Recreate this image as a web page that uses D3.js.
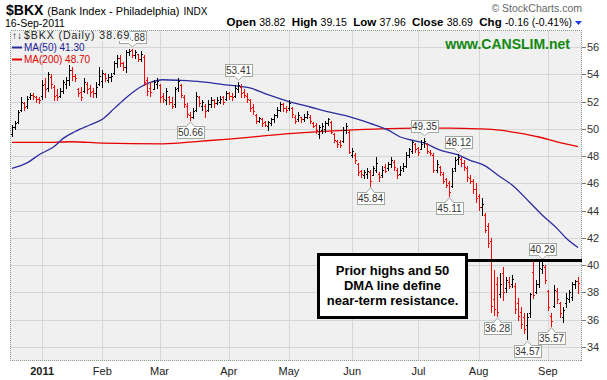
<!DOCTYPE html>
<html><head><meta charset="utf-8">
<script src="https://cdn.jsdelivr.net/npm/d3@7/dist/d3.min.js"></script>
<style>
html,body{margin:0;padding:0;background:#fff;}
svg{display:block;font-family:Arial,"Liberation Sans",sans-serif;}
</style></head><body>
<svg id="c" width="607" height="380"></svg>
<script>
// ---------- DATA (daily OHLC, 17-Dec-2010 .. 16-Sep-2011) ----------
const opens = [
 49.6,50.1,50.5,51.4,51.9,51.7,52.3,52.5,52.3,52.2,
 52.4,53.3,53.0,53.8,53.1,52.5,52.4,52.8,53.3,53.6,54.3,53.9,52.9,52.7,52.8,53.3,53.0,52.8,52.6,53.3,
 53.5,54.0,53.6,53.8,54.1,54.8,55.2,54.8,54.5,55.6,55.8,55.4,55.5,55.1,55.3,53.6,53.0,52.9,53.3,
 53.2,52.4,52.1,52.3,52.0,51.8,53.0,53.2,52.3,51.7,51.0,50.9,51.4,52.3,51.7,51.7,51.4,51.8,52.1,51.9,52.0,52.3,52.2,
 52.6,52.4,52.4,52.9,53.1,52.7,52.4,52.1,51.6,51.0,50.6,50.7,50.5,50.2,50.4,50.7,51.0,51.4,51.8,51.5,
 51.5,51.5,50.9,50.7,50.9,50.7,50.9,50.9,50.4,50.3,49.6,49.9,50.0,50.4,50.5,49.6,49.1,49.0,49.1,49.9,49.8,
 48.1,48.1,47.4,46.9,46.6,46.7,46.8,46.6,47.0,46.7,46.6,47.2,47.1,47.4,47.6,47.0,46.7,47.1,47.3,48.1,48.4,48.9,
 48.6,48.5,49.0,48.9,48.3,48.1,47.0,47.2,46.7,46.3,46.0,45.8,47.1,47.8,47.8,47.5,47.1,46.4,46.2,45.6,
 45.1,44.3,43.7,42.9,41.8,37.5,38.6,37.9,39.4,38.3,38.8,38.6,38.5,37.2,36.6,36.2,35.6,36.5,39.5,38.0,38.6,39.7,39.9,
 38.1,36.3,37.0,38.1,37.2,36.2,37.2,37.5,37.7,38.6,38.82
];
const highs = [
 50.3,50.6,51.4,52.3,52.0,52.4,52.6,52.6,52.4,52.3,
 53.6,53.7,54.2,54.0,53.2,52.9,53.0,53.6,53.8,54.7,54.5,54.0,53.0,53.1,53.7,53.4,53.2,53.0,53.4,54.5,
 54.3,54.1,54.0,54.1,55.0,55.4,55.4,54.9,55.8,55.85,55.88,55.8,55.5,55.7,55.4,53.8,53.4,53.6,53.7,
 53.3,52.6,53.0,52.4,52.3,53.1,53.7,53.3,52.5,51.9,51.2,51.5,52.7,52.4,52.1,51.8,52.1,52.3,52.2,52.3,52.4,52.4,52.8,
 52.7,52.6,53.2,53.41,53.3,52.9,52.6,52.2,51.8,51.1,50.9,50.8,50.6,50.6,50.8,51.1,51.6,52.0,51.9,51.7,
 52.1,51.6,51.0,51.2,50.9,51.1,51.3,51.0,50.5,50.4,50.3,50.4,50.6,50.8,50.6,49.7,49.2,49.2,50.1,50.4,49.9,
 48.6,48.2,47.5,47.0,47.0,47.1,47.0,47.3,47.9,46.8,47.3,47.4,47.6,47.9,47.7,47.1,47.3,47.5,48.3,48.6,49.2,48.96,
 48.7,49.2,49.35,48.96,48.45,48.2,47.7,47.3,46.8,46.4,46.2,47.1,47.9,48.12,47.9,47.7,47.3,46.6,46.3,46.0,
 45.2,44.9,43.8,43.1,42.0,39.65,39.1,39.4,39.9,39.1,39.1,39.3,38.7,37.6,36.9,36.5,36.5,37.95,40.2,38.9,40.2,40.29,40.0,
 38.2,36.5,38.55,38.3,37.3,36.9,37.95,38.2,38.8,38.9,39.15
];
const lows = [
 49.5,50.0,50.4,51.3,51.4,51.5,52.2,52.2,52.0,51.9,
 52.2,52.3,52.8,53.0,52.1,52.1,52.3,52.6,53.0,53.2,53.6,53.5,52.4,52.1,52.7,52.6,52.4,52.3,52.3,53.2,
 53.1,53.5,53.4,53.5,54.0,54.5,54.6,54.3,54.2,55.4,55.3,55.2,55.0,55.0,53.2,52.5,52.4,52.9,53.0,
 52.0,52.0,51.8,51.8,51.5,51.6,52.8,52.3,51.6,50.9,50.66,50.8,51.3,51.7,51.4,50.9,51.3,51.6,51.6,51.8,51.9,51.8,52.1,
 52.2,52.1,52.3,52.7,52.3,52.3,52.0,51.3,51.1,50.4,50.5,50.2,50.2,49.9,50.3,50.5,50.9,51.3,51.3,51.2,
 51.4,50.9,50.4,50.6,50.5,50.6,50.8,50.4,50.1,49.7,49.3,49.7,49.8,50.3,49.7,49.0,48.7,48.7,49.0,49.7,48.2,
 47.9,47.5,46.6,46.5,46.4,46.4,45.84,46.6,46.8,46.2,46.5,46.8,47.0,47.2,47.0,46.4,46.6,46.9,47.2,47.9,48.2,48.3,
 48.1,48.5,48.7,48.2,48.1,46.8,46.8,46.6,46.0,45.7,45.11,45.7,46.9,47.4,47.3,47.0,46.2,46.0,45.3,44.6,
 44.05,43.7,42.4,41.3,36.6,36.35,36.28,37.7,37.45,38.0,38.3,38.4,36.5,36.0,35.4,35.0,34.57,36.2,37.6,37.95,38.4,39.4,38.7,
 36.7,35.57,36.9,37.2,36.2,35.8,36.9,37.3,37.45,38.3,37.96
];
const closes = [
 50.1,50.4,51.2,52.0,51.6,52.2,52.5,52.4,52.2,52.1,
 53.2,52.9,54.0,53.3,52.4,52.3,52.8,53.4,53.6,54.3,53.9,53.7,52.6,52.3,53.4,52.9,52.7,52.6,53.1,53.9,
 54.1,53.7,53.8,53.9,54.8,55.2,54.8,54.5,55.6,55.7,55.4,55.6,55.1,55.5,53.4,52.8,52.7,53.4,53.5,
 52.3,52.2,52.8,52.0,51.7,52.9,53.5,52.5,51.8,51.1,50.9,51.3,52.4,51.9,52.0,51.3,51.8,52.1,51.9,52.1,52.2,52.0,52.6,
 52.4,52.3,53.0,53.2,52.6,52.5,52.2,51.5,51.3,50.6,50.8,50.4,50.3,50.5,50.7,51.0,51.4,51.8,51.5,51.4,
 51.9,51.1,50.6,51.0,50.7,50.9,51.1,50.6,50.2,49.9,50.1,50.2,50.4,50.7,49.8,49.2,48.9,48.8,49.9,50.2,48.3,
 48.4,47.7,46.8,46.7,46.8,46.9,46.2,47.1,47.5,46.5,47.0,46.9,47.4,47.7,47.2,46.6,47.0,47.3,48.1,48.5,49.0,48.5,
 48.3,48.9,49.1,48.4,48.2,47.0,47.4,46.8,46.2,45.9,45.4,46.9,47.7,47.9,47.5,47.2,46.5,46.2,45.6,44.9,
 44.3,44.5,42.6,41.6,37.0,36.8,36.6,38.6,38.0,38.9,38.5,39.0,36.8,36.3,35.7,35.3,36.2,37.9,37.8,38.6,39.8,40.0,38.9,
 36.9,35.9,38.2,37.5,36.5,36.7,37.6,38.0,38.6,38.85,38.69
];
// moving averages read at sample bars
const maIdx   = [0,5,9,14,17,21,26,30,34,38,43,46,50,56,63,72,79,85,92,99,106,112,119,125,129,132,137,142,148,152,157,162,166,172,176,181,184,188];
const ma50    = [47.1,47.5,48.1,48.7,49.3,49.8,50.3,50.7,51.5,52.3,53.1,53.4,53.6,53.55,53.45,53.2,53.0,52.5,52.0,51.6,51.2,50.9,50.4,49.9,49.4,49.2,48.96,48.45,48.1,47.7,47.3,46.5,45.9,44.6,43.7,42.7,42.0,41.3];
const ma200Idx = [0,10,20,30,50,63,72,82,92,102,112,122,135,145,155,162,168,175,181,188];
const ma200    = [49.0,49.0,49.05,48.95,48.9,49.1,49.25,49.45,49.65,49.8,49.9,50.0,50.05,50.05,50.0,49.9,49.7,49.4,49.05,48.7];
// axis ticks
const yTicks = [34,36,38,40,42,44,46,48,50,52,54,56];
const monthIdx = [10,30,49,72,92,113,135,155,178];
const monthLabels = ["2011","Feb","Mar","Apr","May","Jun","Jul","Aug","Sep"];
// price callouts
const calloutIdx  = [40,59,75,119,137,145,148,161,171,176,179];
const calloutKind = ["H","L","H","L","H","L","H","L","L","H","L"];
const resistance = 40.35;
const noteLines = ["Prior highs and 50","DMA line define","near-term resistance."];

// ---------- CHART ----------
const svg = d3.select("#c");
const P = {l:10, t:30, r:582, b:361};
const x = d3.scaleLinear().domain([0, closes.length-1]).range([12, 578]);
const y = d3.scaleLinear().domain([34,56]).range([347,47]);
const BG = "#f0f0f0";

svg.append("rect").attr("x",P.l).attr("y",P.t).attr("width",P.r-P.l).attr("height",P.b-P.t).attr("fill",BG);

const grid = svg.append("g").attr("stroke","#d6d6d6").attr("stroke-width",1).attr("shape-rendering","crispEdges");
grid.selectAll(".hg").data(yTicks).join("line")
  .attr("x1",P.l).attr("x2",P.r).attr("y1",d=>Math.round(y(d))+0.5).attr("y2",d=>Math.round(y(d))+0.5);
grid.selectAll(".vg").data(monthIdx).join("line")
  .attr("y1",P.t).attr("y2",P.b).attr("x1",d=>Math.round(x(d))+0.5).attr("x2",d=>Math.round(x(d))+0.5);

// moving averages
const lineGen = d3.line().curve(d3.curveMonotoneX);
svg.append("path").attr("fill","none").attr("stroke","#e80000").attr("stroke-width",1.3)
  .attr("d", lineGen(ma200Idx.map((d,i)=>[x(d), y(ma200[i])])));
svg.append("path").attr("fill","none").attr("stroke","#2b2ba0").attr("stroke-width",1.3)
  .attr("d", lineGen(maIdx.map((d,i)=>[x(d), y(ma50[i])])));

// OHLC bars
const bars = svg.append("g").attr("shape-rendering","crispEdges").attr("stroke-width",1);
closes.forEach((c,i)=>{
  const col = (i>0 && c < closes[i-1]) ? "#ff0000" : "#000000";
  const px = Math.round(x(i)) + 0.5;
  const g = bars.append("g").attr("stroke",col);
  g.append("line").attr("x1",px).attr("x2",px).attr("y1",Math.round(y(highs[i]))).attr("y2",Math.round(y(lows[i]))+1);
  const yo = Math.round(y(opens[i]))+0.5, yc = Math.round(y(c))+0.5;
  g.append("line").attr("x1",px-1.5).attr("x2",px).attr("y1",yo).attr("y2",yo);
  g.append("line").attr("x1",px).attr("x2",px+1.5).attr("y1",yc).attr("y2",yc);
});

// frame
svg.append("rect").attr("x",P.l+0.5).attr("y",P.t+0.5).attr("width",P.r-P.l-1).attr("height",P.b-P.t-1)
  .attr("fill","none").attr("stroke","#8c9c8c").attr("stroke-dasharray","1,1").attr("shape-rendering","crispEdges");

// y axis (right)
const ya = svg.append("g");
ya.selectAll("line").data(yTicks).join("line").attr("x1",P.r).attr("x2",P.r+4)
  .attr("y1",d=>Math.round(y(d))+0.5).attr("y2",d=>Math.round(y(d))+0.5).attr("stroke","#777").attr("shape-rendering","crispEdges");
ya.selectAll("text").data(yTicks).join("text").attr("x",P.r+5).attr("y",d=>y(d)+4)
  .attr("font-size",11).attr("fill","#333").text(d=>d);

// x labels
svg.selectAll(".ml").data(monthIdx).join("text").attr("class","ml")
  .attr("x",d=>x(d)).attr("y",375).attr("text-anchor","middle")
  .attr("font-size",11).attr("font-weight",(d,i)=>i===0?"bold":"normal").attr("fill","#222")
  .text((d,i)=>monthLabels[i]);

// callouts
const co = svg.append("g");
calloutIdx.forEach((idx,k)=>{
  const hi = calloutKind[k]==="H";
  const v = hi ? highs[idx] : lows[idx];
  const cx = Math.round(x(idx)) + 0.5;
  const bw = 27, bh = 12;
  const tipY = hi ? y(v) - 2 : y(v) + 2;
  const boxY = hi ? tipY - 4 - bh : tipY + 4;
  const g = co.append("g");
  g.append("rect").attr("x",Math.round(cx-bw/2)+0.5).attr("y",Math.round(boxY)+0.5).attr("width",bw).attr("height",bh)
    .attr("fill","#ffffff").attr("stroke","#a0a8a0");
  const by = hi ? Math.round(boxY)+0.5+bh : Math.round(boxY)+0.5;
  g.append("path").attr("d",`M${cx-4},${by} L${cx},${tipY} L${cx+4},${by}`).attr("fill","#fff").attr("stroke","#a0a8a0");
  g.append("line").attr("x1",cx-3.5).attr("x2",cx+3.5).attr("y1",by).attr("y2",by).attr("stroke","#fff");
  g.append("text").attr("x",cx).attr("y",Math.round(boxY)+10).attr("text-anchor","middle")
    .attr("font-size",10).attr("fill","#333").text(v.toFixed(2));
});

// legend (drawn over the left part of the Feb peak callout, as in the original)
const lg = svg.append("g");
const lt = lg.append("text").attr("x",24).attr("y",39).attr("font-size",10.5).attr("letter-spacing",0.95).attr("fill","#222")
  .text("$BKX (Daily) " + closes[closes.length-1].toFixed(2));
const lw = lt.node().getComputedTextLength();
lg.insert("rect","text").attr("x",11).attr("y",31).attr("width",24+lw-11).attr("height",10).attr("fill",BG);
lg.append("text").attr("x",12).attr("y",39).attr("font-size",10).attr("fill","#222").text("↑↓");
lg.append("line").attr("x1",12).attr("x2",22).attr("y1",47.5).attr("y2",47.5).attr("stroke","#2b2ba0").attr("stroke-width",2);
lg.append("text").attr("x",24).attr("y",51).attr("font-size",10).attr("fill","#1c1c96").text("MA(50) " + ma50[ma50.length-1].toFixed(2));
lg.append("line").attr("x1",12).attr("x2",22).attr("y1",59.5).attr("y2",59.5).attr("stroke","#e80000").attr("stroke-width",2);
lg.append("text").attr("x",24).attr("y",63).attr("font-size",10).attr("fill","#e00000").text("MA(200) " + ma200[ma200.length-1].toFixed(2));

// watermark
svg.append("text").attr("x",570).attr("y",49).attr("text-anchor","end").attr("font-size",14).attr("font-weight","bold")
  .attr("fill","#118811").text("www.CANSLIM.net");

// header
const hd = svg.append("g");
const t1 = hd.append("text").attr("x",6).attr("y",15);
t1.append("tspan").attr("font-size",14).attr("font-weight","bold").text("$BKX");
t1.append("tspan").attr("font-size",11).attr("dx",4).text("(Bank Index - Philadelphia)");
t1.append("tspan").attr("font-size",10).attr("dx",4).text("INDX");
hd.append("text").attr("x",5).attr("y",27).attr("font-size",10.5).text("16-Sep-2011");
hd.append("text").attr("x",582).attr("y",12).attr("text-anchor","end").attr("font-size",10.5).attr("fill","#666").text("© StockCharts.com");
const n = closes.length;
const chg = closes[n-1]-closes[n-2];
const t2 = hd.append("text").attr("x",572).attr("y",26).attr("text-anchor","end").attr("font-size",10.5);
[["Open ",opens[n-1].toFixed(2)],["  High ",highs[n-1].toFixed(2)],["  Low ",lows[n-1].toFixed(2)],
 ["  Close ",closes[n-1].toFixed(2)],["  Chg ",chg.toFixed(2)+" ("+(chg/closes[n-2]*100).toFixed(2)+"%)"]].forEach(p=>{
  t2.append("tspan").attr("font-weight","bold").attr("font-size",11.5).attr("xml:space","preserve").text(p[0]);
  t2.append("tspan").text(p[1]);
});
hd.append("path").attr("d","M575,21 L582,21 L578.5,25 Z").attr("fill","#1a3cdc");

// annotation
const an = svg.append("g");
an.append("line").attr("x1",467).attr("x2",P.r).attr("y1",y(resistance)).attr("y2",y(resistance)).attr("stroke","#000").attr("stroke-width",3);
an.append("rect").attr("x",318.5).attr("y",254.5).attr("width",148).attr("height",63).attr("fill","#fff").attr("stroke","#000").attr("stroke-width",3);
noteLines.forEach((s,i)=>{
  an.append("text").attr("x",392.5).attr("y",275+i*15).attr("text-anchor","middle").attr("font-size",13).attr("font-weight","bold").text(s);
});
</script>
</body></html>
